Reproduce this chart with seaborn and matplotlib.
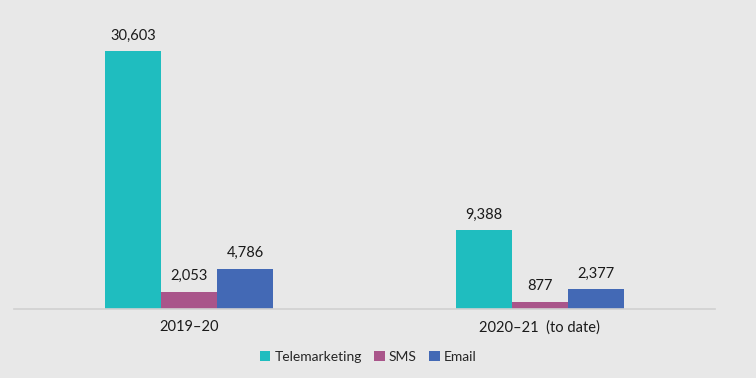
import pandas as pd
import matplotlib
matplotlib.use('Agg')
import matplotlib.pyplot as plt
import seaborn as sns

periods = ['2019–20', '2020–21  (to date)']
channels = ['Telemarketing', 'SMS', 'Email']
telemarketing = [30603, 9388]
sms = [2053, 877]
email = [4786, 2377]

colors = ['#1FBDBF', '#A9558A', '#4369B5']
bg = '#E8E8E8'

df = pd.DataFrame({
    'period': periods * 3,
    'channel': [c for c in channels for _ in periods],
    'value': telemarketing + sms + email,
})

sns.set_theme(style='white')
plt.rcParams['font.family'] = ['Lato', 'DejaVu Sans']

fig = plt.figure(figsize=(7.56, 3.78), dpi=100, facecolor=bg)
ax = fig.add_axes([0.0185, 0.1825, 0.9273, 0.78])
ax.set_facecolor(bg)

sns.barplot(data=df, x='period', y='value', hue='channel', palette=colors,
            width=0.48, saturation=1, linewidth=0, ax=ax, legend=True)

for cont in ax.containers:
    ax.bar_label(cont, labels=[f'{v:,.0f}' for v in cont.datavalues],
                 padding=6, fontsize=10.5, color='#1a1a1a')

ax.set_ylim(0, 35000)
ax.set_xlim(-0.5, 1.5)
ax.set_yticks([])
ax.set_xlabel('')
ax.set_ylabel('')
for s in ['top', 'left', 'right']:
    ax.spines[s].set_visible(False)
ax.spines['bottom'].set_color('#D0D0D0')
ax.spines['bottom'].set_linewidth(1.2)
ax.tick_params(axis='x', length=0, pad=8, labelsize=10.5, colors='#1a1a1a')

handles, labels = ax.get_legend_handles_labels()
ax.legend_.remove()
fig.legend(handles, labels, loc='center', bbox_to_anchor=(0.487, 0.055), ncol=3,
           frameon=False, fontsize=10, handlelength=0.75, handleheight=0.75,
           handletextpad=0.3, columnspacing=0.9)

fig.savefig('out.png', dpi=100, facecolor=bg)
